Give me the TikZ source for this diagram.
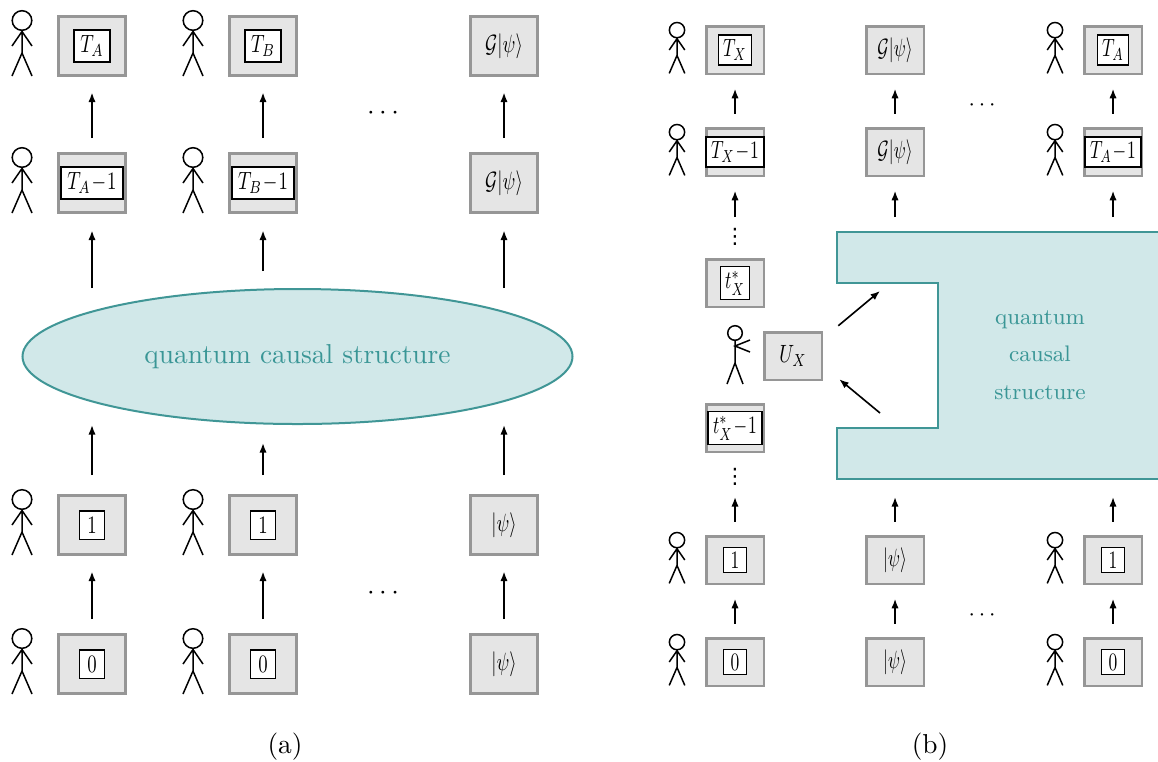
\documentclass[tikz,border=0pt]{standalone}
\usepackage{fontspec}
\newfontfamily\dejavu{DejaVu Sans}
\usetikzlibrary{shapes.geometric,arrows.meta,calc}
\definecolor{boxgray}{RGB}{150,150,150}
\definecolor{boxfill}{RGB}{229,229,229}
\definecolor{tealline}{RGB}{64,150,150}
\definecolor{tealfill}{RGB}{209,232,233}
\definecolor{tealtext}{RGB}{58,150,150}
\newcommand{\fa}{\fontsize{10.95}{13}\selectfont}
\newcommand{\fb}{\fontsize{9}{11}\selectfont}
\newcommand{\fin}{\fontsize{10}{12}\selectfont}
\newcommand{\sqa}[1]{\scalebox{0.75}[1]{#1}}
\newcommand{\sqb}[1]{\scalebox{0.7}[1]{#1}}
\newcommand{\stickman}[3]{\begin{scope}[shift={(#1,#2)},scale=#3]
 \draw[figline] (0,-25.5) circle (9.8);
 \draw[figline] (0,-15.7) -- (0,7) (-10,30) -- (0,7) -- (10,30) (-10,0) -- (0,-14.5) -- (10,0);
\end{scope}}
\tikzset{
 figline/.style={line width=0.6pt},
 abox/.style={draw=boxgray, fill=boxfill, line width=1.2pt, minimum width=26.8pt, minimum height=23.6pt, inner sep=0pt, font=\fin},
 bbox/.style={draw=boxgray, fill=boxfill, line width=1pt, minimum width=23pt, minimum height=19pt, inner sep=0pt, font=\fin},
 ain/.style={draw=black, fill=white, line width=0.6pt, inner xsep=2.5pt, inner ysep=2.2pt, minimum width=10pt, minimum height=11.4pt, font=\fin},
 bin/.style={draw=black, fill=white, line width=0.5pt, inner xsep=2pt, inner ysep=1.8pt, minimum width=9pt, font=\fin},
 arr/.style={-{Latex[length=3.8pt,width=2.9pt]}, line width=0.65pt}
}
\begin{document}
\begin{tikzpicture}[x=0.4pt,y=-0.4pt]
\useasboundingbox (0,0) rectangle (1158,761);
% ---------------- panel (a) ----------------
\node[abox] (a11) at (92,46) {};  \node[ain] (a11t) at (a11) {\sqa{$T_A$}};
\node[abox] (a12) at (263,46) {}; \node[ain] (a12t) at (a12) {\sqa{$T_B$}};
\node[abox] (a13) at (504,46) {\sqa{$\mathcal{G}|\psi\rangle$}};
\node[abox] (a21) at (92,183) {};  \node[ain] (a21t) at (a21) {\sqa{$T_A\!-\!1$}};
\node[abox] (a22) at (263,183) {}; \node[ain] (a22t) at (a22) {\sqa{$T_B\!-\!1$}};
\node[abox] (a23) at (504,183) {\sqa{$\mathcal{G}|\psi\rangle$}};
\node[abox] (a31) at (92,525) {};  \node[ain] (a31t) at (a31) {\sqa{$1$}};
\node[abox] (a32) at (263,525) {}; \node[ain] (a32t) at (a32) {\sqa{$1$}};
\node[abox] (a33) at (504,525) {\sqa{$|\psi\rangle$}};
\node[abox] (a41) at (92,664) {};  \node[ain] (a41t) at (a41) {\sqa{$0$}};
\node[abox] (a42) at (263,664) {}; \node[ain] (a42t) at (a42) {\sqa{$0$}};
\node[abox] (a43) at (504,664) {\sqa{$|\psi\rangle$}};
\foreach \y in {46,183,525,664}{\stickman{22}{\y}{1}\stickman{193}{\y}{1}}
\node[ellipse, draw=tealline, fill=tealfill, line width=0.8pt, minimum width=220pt, minimum height=54pt, text=tealtext, font=\fa] (qcs) at (297.5,356.5) {quantum causal structure};
\foreach \c in {1,2,3}{
 \draw[arr, shorten <=5.6pt, shorten >=6.2pt] (a2\c.north) -- (a1\c.south);
 \draw[arr, shorten <=5.6pt, shorten >=6.2pt] (a4\c.north) -- (a3\c.south);
}
\draw[arr, shorten >=6.6pt] (qcs.north -| a21) -- (a21.south);
\draw[arr, shorten <=6.8pt, shorten >=6.6pt] (qcs.north -| a22) -- (a22.south);
\draw[arr, shorten >=6.6pt] (qcs.north -| a23) -- (a23.south);
\draw[arr, shorten <=7.6pt] (a31.north) -- (qcs.south -| a31);
\draw[arr, shorten <=7.6pt, shorten >=7.2pt] (a32.north) -- (qcs.south -| a32);
\draw[arr, shorten <=7.6pt] (a33.north) -- (qcs.south -| a33);
\node[font=\fa] (dA1) at (383,113) {$\cdots$};
\node[font=\fa] (dA2) at (383,593) {$\cdots$};
\node[font=\fa] (capA) at (285,747) {(a)};
% ---------------- panel (b) ----------------
\fill[tealfill] (1158,232) -- (837,232) -- (837,283) -- (938,283) -- (938,428) -- (837,428) -- (837,479) -- (1158,479) -- cycle;
\draw[tealline, line width=0.8pt] (1158,232) -- (837,232) -- (837,283) -- (938,283) -- (938,428) -- (837,428) -- (837,479) -- (1158,479);
\coordinate (cTL) at (837,232);
\coordinate (cBL) at (837,479);
\node[text=tealtext, font={\fontsize{9}{15}\selectfont}, align=center] (qcsb) at (1040,355) {quantum\\causal\\structure};
\node[bbox] (b11) at (735,50) {};  \node[bin] (b11t) at (b11) {\sqb{$T_X$}};
\node[bbox] (b12) at (895,50) {\sqb{$\mathcal{G}|\psi\rangle$}};
\node[bbox] (b13) at (1113,50) {}; \node[bin] (b13t) at (b13) {\sqb{$T_A$}};
\node[bbox] (b21) at (735,152) {};  \node[bin] (b21t) at (b21) {\sqb{$T_X\!-\!1$}};
\node[bbox] (b22) at (895,152) {\sqb{$\mathcal{G}|\psi\rangle$}};
\node[bbox] (b23) at (1113,152) {}; \node[bin] (b23t) at (b23) {\sqb{$T_A\!-\!1$}};
\node[bbox] (b31) at (735,560) {};  \node[bin] (b31t) at (b31) {\sqb{$1$}};
\node[bbox] (b32) at (895,560) {\sqb{$|\psi\rangle$}};
\node[bbox] (b33) at (1113,560) {}; \node[bin] (b33t) at (b33) {\sqb{$1$}};
\node[bbox] (b41) at (735,662) {};  \node[bin] (b41t) at (b41) {\sqb{$0$}};
\node[bbox] (b42) at (895,662) {\sqb{$|\psi\rangle$}};
\node[bbox] (b43) at (1113,662) {}; \node[bin] (b43t) at (b43) {\sqb{$0$}};
\foreach \y in {50,152,560,662}{\stickman{677}{\y}{0.78}\stickman{1055}{\y}{0.78}}
\node[bbox] (ts) at (735,283) {};  \node[bin] (tst) at (ts) {\sqb{$t^*_X$}};
\node[bbox] (ts1) at (735,428) {}; \node[bin] (ts1t) at (ts1) {\sqb{$t^*_X\!-\!1$}};
\node[font={\fontsize{8.5}{10}\dejavu}, inner sep=0pt] (vd1) at (735,237) {⋮};
\node[font={\fontsize{8.5}{10}\dejavu}, inner sep=0pt] (vd2) at (735,477) {⋮};
\node[bbox] (UX) at (793,356) {\sqa{$U_X$}};
% pointing figure
\draw[figline] (735,333) circle (7.3);
\draw[figline] (735,340.3) -- (735,363) (727,384) -- (735,363) -- (743,384) (750,340) -- (735,346) -- (750,352);
\coordinate (p1) at (880,291);
\coordinate (p2) at (880,413);
\draw[arr] ([xshift=6.1pt,yshift=2.1pt]UX.north east) -- (p1);
\draw[arr] (p2) -- ([xshift=6.5pt,yshift=0.7pt]UX.south east);
\foreach \c in {1,2,3}{
 \draw[arr, shorten <=5.3pt, shorten >=5.5pt] (b2\c.north) -- (b1\c.south);
 \draw[arr, shorten <=6pt, shorten >=5.5pt] (cTL -| b2\c) -- (b2\c.south);
 \draw[arr, shorten <=5.3pt, shorten >=7.2pt] (b3\c.north) -- (cBL -| b3\c);
 \draw[arr, shorten <=5.3pt, shorten >=5.5pt] (b4\c.north) -- (b3\c.south);
}
\node[font=\fb] (dB1) at (982,105) {$\cdots$};
\node[font=\fb] (dB2) at (982,615) {$\cdots$};
\node[font=\fa] (capB) at (930,747) {(b)};
\end{tikzpicture}
\end{document}
